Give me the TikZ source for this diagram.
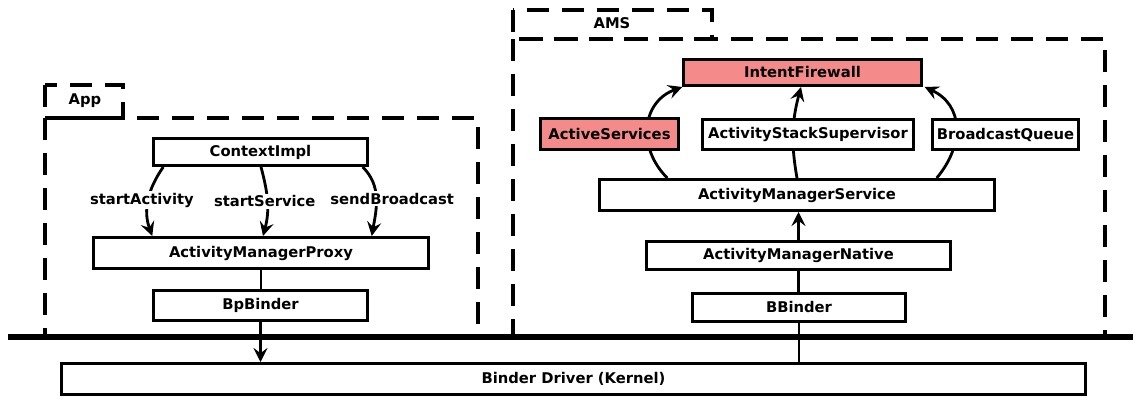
\documentclass[tikz,border=0pt]{standalone}
\usepackage{fontspec}
\setmainfont{DejaVu Sans}
\usetikzlibrary{positioning}
\usetikzlibrary{arrows.meta}
\usetikzlibrary{backgrounds}

\definecolor{hot}{RGB}{244,138,138}

\tikzset{
	box/.style={draw, line width=1.7pt, inner sep=0pt, font=\fontsize{8.4}{10}\selectfont\bfseries},
	hotbox/.style={box, fill=hot},
	frame/.style={line width=2pt, dash pattern=on 0.44cm off 0.26cm},
	conn/.style={line width=1.6pt},
	arr/.style={conn, -{Stealth[length=8pt, width=8pt, inset=3pt]}},
	lbl/.style={fill=white, inner sep=1pt, font=\fontsize{8.4}{10}\selectfont\bfseries},
}

\begin{document}
\begin{tikzpicture}[x=0.02cm, y=-0.02cm]
		\useasboundingbox (0,0) rectangle (1136,398);
		% frames
		\draw[frame] (45,85) rectangle (123,118);
		\node[lbl, fill=none] (app) at (85,101) {App};
		\draw[frame] (45,118) rectangle (478,337);
		\draw[frame] (513,10) rectangle (712,39);
		\node[lbl, fill=none] (amslbl) at (612,23) {AMS};
		\draw[frame] (513,39) rectangle (1105,337);
		% app side
		\node[box, minimum width=4.27cm, minimum height=0.54cm] (ctx) at (260.5,152) {ContextImpl};
		\node[box, minimum width=6.69cm, minimum height=0.62cm] (amp) at (261,253) {ActivityManagerProxy};
		\node[box, minimum width=4.27cm, minimum height=0.6cm] (bp) at (260.5,305.5) {BpBinder};
		% ams side
		\node[hotbox, minimum width=4.75cm, minimum height=0.52cm] (ifw) at (802.5,72.5) {IntentFirewall};
		\node[hotbox, minimum width=2.75cm, minimum height=0.62cm] (as) at (609.5,134) {ActiveServices};
		\node[box, fill=white, minimum width=4.21cm, minimum height=0.6cm] (ass) at (808,134.5) {ActivityStackSupervisor};
		\node[box, fill=white, minimum width=2.91cm, minimum height=0.6cm] (bq) at (1005.5,134.5) {BroadcastQueue};
		\node[box, fill=white, minimum width=7.89cm, minimum height=0.62cm] (ams) at (797,195) {ActivityManagerService};
		\node[box, minimum width=6.07cm, minimum height=0.56cm] (amn) at (798.5,255.5) {ActivityManagerNative};
		\node[box, minimum width=4.25cm, minimum height=0.56cm] (bb) at (799,307.5) {BBinder};
		% kernel
		\node[box, minimum width=20.47cm, minimum height=0.62cm] (drv) at (573.5,379) {Binder Driver (Kernel)};
		\draw[line width=2.9pt] (8,337) -- (1133,337);
		% calls
		\draw[arr] ([xshift=0.22cm]ctx.south west) to[out=235, in=110] node[lbl, xshift=-0.13cm] (act) {startActivity} ([xshift=1.2cm]amp.north west);
		\draw[arr] ([xshift=0.01cm]ctx.south) to[out=-75, in=75] node[lbl, xshift=-0.05cm] (srv) {startService} ([xshift=0.04cm]amp.north);
		\draw[arr] ([xshift=-0.12cm]ctx.south east) to[out=-45, in=80] node[lbl, xshift=0.32cm] (bc) {sendBroadcast} ([xshift=-1.16cm]amp.north east);
		\begin{pgfonlayer}{background}
			\draw[arr] ([xshift=1.38cm]ams.north west) to[out=135, in=200, looseness=1.2] (ifw.south west);
			\draw[arr] (ams.north) to[out=100, in=-105] ([xshift=-0.03cm]ifw.south);
			\draw[arr] ([xshift=-1.18cm]ams.north east) to[out=50, in=-25, looseness=1.2] ([xshift=0.04cm]ifw.south east);
		\end{pgfonlayer}
		% binder
		\draw[conn] (amp.south) -- (amp.south |- bp.north);
		\draw[arr] (bp.south) -- (bp.south |- drv.north);
		\draw[arr] (amn.north) -- (amn.north |- ams.south);
		\draw[conn] (amn.south) -- (amn.south |- bb.north);
		\draw[conn] (bb.south) -- (bb.south |- drv.north);
	\end{tikzpicture}
\end{document}
